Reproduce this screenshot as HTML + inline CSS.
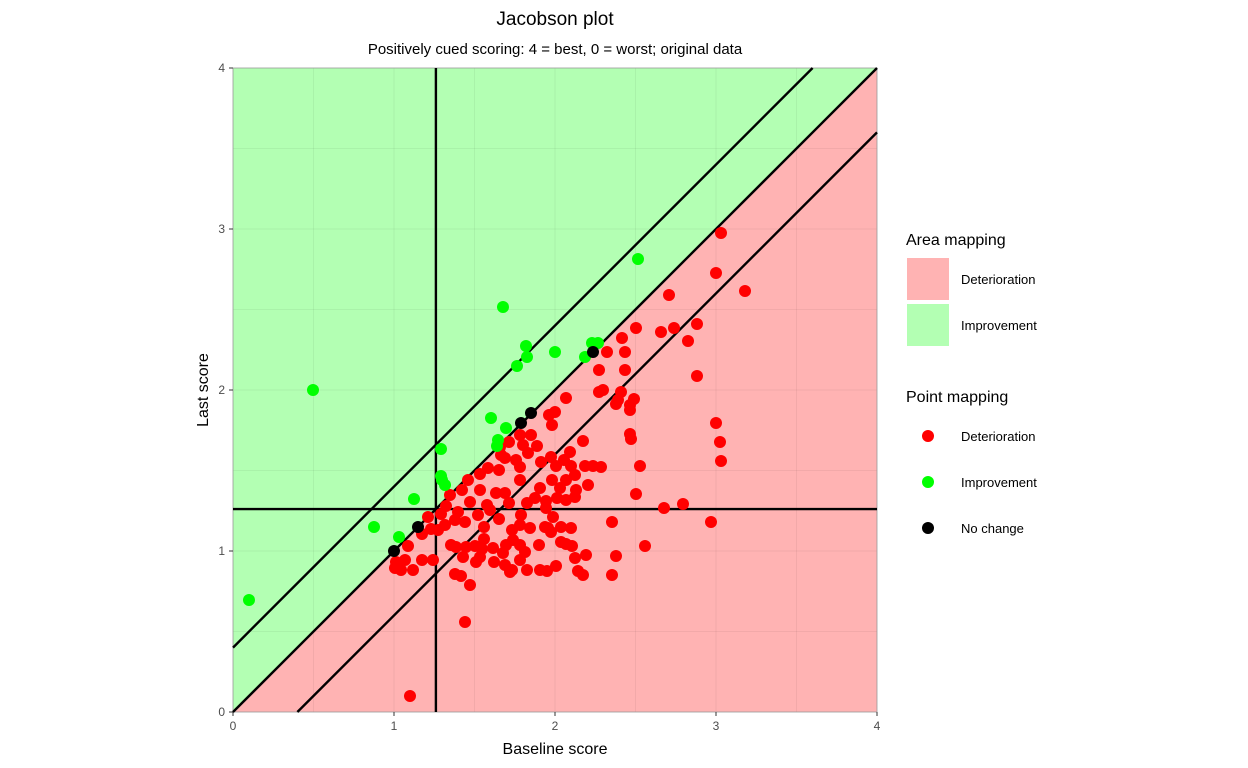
<!DOCTYPE html>
<html><head><meta charset="utf-8"><style>body{margin:0;background:#fff}svg{display:block;font-family:"Liberation Sans",sans-serif}</style></head><body>
<svg width="1248" height="768" xmlns="http://www.w3.org/2000/svg">
<rect width="1248" height="768" fill="#fff"/>
<text x="555" y="25" font-size="19" text-anchor="middle">Jacobson plot</text>
<text x="555" y="54" font-size="15" text-anchor="middle">Positively cued scoring: 4 = best, 0 = worst; original data</text>
<polygon points="233,712 877,68 233,68" fill="#b3ffb3"/>
<polygon points="233,712 877,712 877,68" fill="#ffb3b3"/>
<g stroke="#000" stroke-opacity="0.05" stroke-width="1">
<line x1="313.5" y1="68" x2="313.5" y2="712"/><line x1="394" y1="68" x2="394" y2="712"/><line x1="474.5" y1="68" x2="474.5" y2="712"/><line x1="555" y1="68" x2="555" y2="712"/><line x1="635.5" y1="68" x2="635.5" y2="712"/><line x1="716" y1="68" x2="716" y2="712"/><line x1="796.5" y1="68" x2="796.5" y2="712"/>
<line x1="233" y1="631.5" x2="877" y2="631.5"/><line x1="233" y1="551" x2="877" y2="551"/><line x1="233" y1="470.5" x2="877" y2="470.5"/><line x1="233" y1="390" x2="877" y2="390"/><line x1="233" y1="309.5" x2="877" y2="309.5"/><line x1="233" y1="229" x2="877" y2="229"/><line x1="233" y1="148.5" x2="877" y2="148.5"/>
</g>
<rect x="233" y="68" width="644" height="644" fill="none" stroke="#999" stroke-width="0.8"/>
<g stroke="#000" stroke-width="2.4">
<line x1="233" y1="647.6" x2="812.6" y2="68"/>
<line x1="233" y1="712" x2="877" y2="68"/>
<line x1="297.4" y1="712" x2="877" y2="132.4"/>
<line x1="435.9" y1="68" x2="435.9" y2="712"/>
<line x1="233" y1="509.1" x2="877" y2="509.1"/>
</g>
<g fill="#ff0000">
<circle cx="721" cy="233" r="6"/><circle cx="745" cy="291" r="6"/><circle cx="716" cy="273" r="6"/><circle cx="669" cy="295" r="6"/><circle cx="674" cy="328" r="6"/><circle cx="661" cy="332" r="6"/><circle cx="697" cy="324" r="6"/><circle cx="688" cy="341" r="6"/><circle cx="636" cy="328" r="6"/><circle cx="622" cy="338" r="6"/><circle cx="607" cy="352" r="6"/><circle cx="625" cy="352" r="6"/><circle cx="599" cy="370" r="6"/><circle cx="599" cy="392" r="6"/><circle cx="603" cy="390" r="6"/><circle cx="625" cy="370" r="6"/><circle cx="621" cy="392" r="6"/><circle cx="634" cy="399" r="6"/><circle cx="630" cy="405" r="6"/><circle cx="616" cy="404" r="6"/><circle cx="618" cy="400" r="6"/><circle cx="697" cy="376" r="6"/><circle cx="716" cy="423" r="6"/><circle cx="720" cy="442" r="6"/><circle cx="721" cy="461" r="6"/><circle cx="640" cy="466" r="6"/><circle cx="630" cy="434" r="6"/><circle cx="631" cy="439" r="6"/><circle cx="630" cy="410" r="6"/><circle cx="636" cy="494" r="6"/><circle cx="664" cy="508" r="6"/><circle cx="683" cy="504" r="6"/><circle cx="711" cy="522" r="6"/><circle cx="612" cy="522" r="6"/><circle cx="571" cy="528" r="6"/><circle cx="616" cy="556" r="6"/><circle cx="645" cy="546" r="6"/><circle cx="578" cy="571" r="6"/><circle cx="583" cy="575" r="6"/><circle cx="612" cy="575" r="6"/><circle cx="465" cy="622" r="6"/><circle cx="410" cy="696" r="6"/><circle cx="566" cy="398" r="6"/><circle cx="555" cy="412" r="6"/><circle cx="549" cy="415" r="6"/><circle cx="552" cy="425" r="6"/><circle cx="531" cy="435" r="6"/><circle cx="520" cy="435" r="6"/><circle cx="509" cy="442" r="6"/><circle cx="500" cy="447" r="6"/><circle cx="501" cy="455" r="6"/><circle cx="516" cy="460" r="6"/><circle cx="523" cy="445" r="6"/><circle cx="528" cy="453" r="6"/><circle cx="537" cy="446" r="6"/><circle cx="541" cy="462" r="6"/><circle cx="551" cy="457" r="6"/><circle cx="556" cy="466" r="6"/><circle cx="564" cy="460" r="6"/><circle cx="571" cy="466" r="6"/><circle cx="583" cy="441" r="6"/><circle cx="585" cy="466" r="6"/><circle cx="566" cy="480" r="6"/><circle cx="570" cy="452" r="6"/><circle cx="593" cy="466" r="6"/><circle cx="601" cy="467" r="6"/><circle cx="575" cy="475" r="6"/><circle cx="588" cy="485" r="6"/><circle cx="576" cy="490" r="6"/><circle cx="560" cy="488" r="6"/><circle cx="552" cy="480" r="6"/><circle cx="540" cy="488" r="6"/><circle cx="535" cy="498" r="6"/><circle cx="527" cy="503" r="6"/><circle cx="520" cy="480" r="6"/><circle cx="520" cy="467" r="6"/><circle cx="505" cy="458" r="6"/><circle cx="499" cy="470" r="6"/><circle cx="488" cy="468" r="6"/><circle cx="480" cy="474" r="6"/><circle cx="468" cy="480" r="6"/><circle cx="480" cy="490" r="6"/><circle cx="496" cy="493" r="6"/><circle cx="505" cy="493" r="6"/><circle cx="509" cy="503" r="6"/><circle cx="490" cy="510" r="6"/><circle cx="478" cy="515" r="6"/><circle cx="465" cy="522" r="6"/><circle cx="458" cy="512" r="6"/><circle cx="455" cy="520" r="6"/><circle cx="462" cy="490" r="6"/><circle cx="450" cy="495" r="6"/><circle cx="446" cy="506" r="6"/><circle cx="441" cy="514" r="6"/><circle cx="431" cy="529" r="6"/><circle cx="428" cy="517" r="6"/><circle cx="512" cy="530" r="6"/><circle cx="520" cy="525" r="6"/><circle cx="521" cy="515" r="6"/><circle cx="546" cy="508" r="6"/><circle cx="553" cy="517" r="6"/><circle cx="561" cy="527" r="6"/><circle cx="566" cy="500" r="6"/><circle cx="575" cy="497" r="6"/><circle cx="557" cy="498" r="6"/><circle cx="546" cy="501" r="6"/><circle cx="545" cy="527" r="6"/><circle cx="530" cy="528" r="6"/><circle cx="513" cy="540" r="6"/><circle cx="506" cy="545" r="6"/><circle cx="503" cy="553" r="6"/><circle cx="493" cy="548" r="6"/><circle cx="482" cy="549" r="6"/><circle cx="475" cy="546" r="6"/><circle cx="466" cy="547" r="6"/><circle cx="456" cy="547" r="6"/><circle cx="451" cy="545" r="6"/><circle cx="445" cy="525" r="6"/><circle cx="438" cy="530" r="6"/><circle cx="484" cy="527" r="6"/><circle cx="470" cy="502" r="6"/><circle cx="487" cy="505" r="6"/><circle cx="499" cy="519" r="6"/><circle cx="484" cy="539" r="6"/><circle cx="520" cy="545" r="6"/><circle cx="525" cy="552" r="6"/><circle cx="539" cy="545" r="6"/><circle cx="548" cy="528" r="6"/><circle cx="551" cy="532" r="6"/><circle cx="561" cy="542" r="6"/><circle cx="566" cy="544" r="6"/><circle cx="572" cy="546" r="6"/><circle cx="575" cy="558" r="6"/><circle cx="586" cy="555" r="6"/><circle cx="556" cy="566" r="6"/><circle cx="547" cy="571" r="6"/><circle cx="540" cy="570" r="6"/><circle cx="527" cy="570" r="6"/><circle cx="512" cy="570" r="6"/><circle cx="505" cy="565" r="6"/><circle cx="494" cy="562" r="6"/><circle cx="480" cy="557" r="6"/><circle cx="463" cy="557" r="6"/><circle cx="455" cy="574" r="6"/><circle cx="461" cy="576" r="6"/><circle cx="476" cy="562" r="6"/><circle cx="470" cy="585" r="6"/><circle cx="422" cy="534" r="6"/><circle cx="408" cy="546" r="6"/><circle cx="396" cy="562" r="6"/><circle cx="405" cy="560" r="6"/><circle cx="433" cy="560" r="6"/><circle cx="413" cy="570" r="6"/><circle cx="422" cy="560" r="6"/><circle cx="401" cy="570" r="6"/><circle cx="395" cy="568" r="6"/><circle cx="510" cy="572" r="6"/><circle cx="520" cy="560" r="6"/>
</g>
<g fill="#00ff00">
<circle cx="249" cy="600" r="6"/><circle cx="313" cy="390" r="6"/><circle cx="503" cy="307" r="6"/><circle cx="638" cy="259" r="6"/><circle cx="374" cy="527" r="6"/><circle cx="399" cy="537" r="6"/><circle cx="414" cy="499" r="6"/><circle cx="441" cy="449" r="6"/><circle cx="441" cy="476" r="6"/><circle cx="445" cy="485" r="6"/><circle cx="442" cy="480" r="6"/><circle cx="491" cy="418" r="6"/><circle cx="497" cy="446" r="6"/><circle cx="498" cy="440" r="6"/><circle cx="506" cy="428" r="6"/><circle cx="517" cy="366" r="6"/><circle cx="526" cy="346" r="6"/><circle cx="527" cy="357" r="6"/><circle cx="555" cy="352" r="6"/><circle cx="585" cy="357" r="6"/><circle cx="592" cy="343" r="6"/><circle cx="598" cy="343" r="6"/>
</g>
<g fill="#000">
<circle cx="394" cy="551" r="6"/><circle cx="418" cy="527" r="6"/><circle cx="521" cy="423" r="6"/><circle cx="531" cy="413" r="6"/><circle cx="593" cy="352" r="6"/>
</g>
<g stroke="#333" stroke-width="1">
<line x1="229" y1="712" x2="233" y2="712"/><line x1="229" y1="551" x2="233" y2="551"/><line x1="229" y1="390" x2="233" y2="390"/><line x1="229" y1="229" x2="233" y2="229"/><line x1="229" y1="68" x2="233" y2="68"/>
<line x1="233" y1="712" x2="233" y2="716"/><line x1="394" y1="712" x2="394" y2="716"/><line x1="555" y1="712" x2="555" y2="716"/><line x1="716" y1="712" x2="716" y2="716"/><line x1="877" y1="712" x2="877" y2="716"/>
</g>
<g font-size="12" fill="#4d4d4d">
<text x="225" y="716" text-anchor="end">0</text><text x="225" y="555" text-anchor="end">1</text><text x="225" y="394" text-anchor="end">2</text><text x="225" y="233" text-anchor="end">3</text><text x="225" y="72" text-anchor="end">4</text>
<text x="233" y="730" text-anchor="middle">0</text><text x="394" y="730" text-anchor="middle">1</text><text x="555" y="730" text-anchor="middle">2</text><text x="716" y="730" text-anchor="middle">3</text><text x="877" y="730" text-anchor="middle">4</text>
</g>
<text x="555" y="754" font-size="16" text-anchor="middle">Baseline score</text>
<text transform="translate(208,390) rotate(-90)" font-size="16" text-anchor="middle">Last score</text>
<text x="906" y="245" font-size="16">Area mapping</text>
<rect x="907" y="258" width="42" height="42" fill="#ffb3b3"/>
<rect x="907" y="304" width="42" height="42" fill="#b3ffb3"/>
<text x="961" y="284" font-size="13">Deterioration</text>
<text x="961" y="330" font-size="13">Improvement</text>
<text x="906" y="402" font-size="16">Point mapping</text>
<circle cx="928" cy="436" r="6" fill="#ff0000"/><circle cx="928" cy="482" r="6" fill="#00ff00"/><circle cx="928" cy="528" r="6" fill="#000"/>
<text x="961" y="441" font-size="13">Deterioration</text>
<text x="961" y="487" font-size="13">Improvement</text>
<text x="961" y="533" font-size="13">No change</text>
</svg>
</body></html>
